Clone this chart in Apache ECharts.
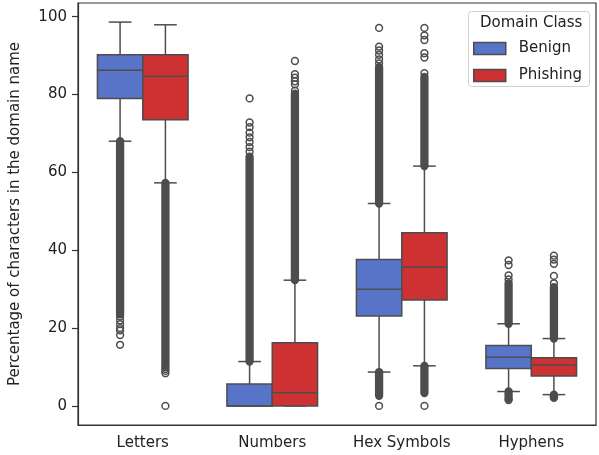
<!DOCTYPE html>
<html>
<head>
<meta charset="utf-8">
<script src="https://cdn.jsdelivr.net/npm/echarts@6/dist/echarts.min.js"></script>
<style>html,body{margin:0;padding:0;background:#fff}#c{width:599px;height:455px}</style>
</head>
<body>
<div id="c"></div>
<script>
// ---- data ----
const categories = ['Letters', 'Numbers', 'Hex Symbols', 'Hyphens'];
const hues = ['Benign', 'Phishing'];
const yTicks = [0, 20, 40, 60, 80, 100];

// [lowWhisker, Q1, median, Q3, highWhisker] per category
const benignBox = [
  [68.0, 79.0, 86.2, 90.2, 98.6],
  [0.0, 0.0, 0.0, 5.6, 11.4],
  [8.7, 23.1, 30.0, 37.6, 52.0],
  [3.7, 9.6, 12.5, 15.5, 21.1]
];
const phishingBox = [
  [57.3, 73.5, 84.7, 90.2, 97.9],
  [0.0, 0.0, 3.4, 16.2, 32.3],
  [10.3, 27.2, 35.7, 44.5, 61.6],
  [2.9, 7.7, 10.5, 12.4, 17.3]
];

// individual outlier circles: [categoryIndex, value]
const benignOutliers = [
  [0, 23.0], [0, 22.0], [0, 21.0], [0, 20.0], [0, 19.4], [0, 18.2], [0, 15.7],
  [1, 79.0], [1, 72.8], [1, 71.6], [1, 70.2], [1, 69.0], [1, 67.8], [1, 66.5], [1, 65.3],
  [2, 97.1], [2, 92.3], [2, 91.3], [2, 90.2], [2, 89.0], [2, 88.0], [2, 0.0],
  [3, 37.4], [3, 36.2], [3, 33.5], [3, 32.5], [3, 1.5]
];
const phishingOutliers = [
  [0, 10.5], [0, 10.0], [0, 9.5], [0, 9.0], [0, 8.4], [0, 0.0],
  [1, 88.6], [1, 85.2], [1, 84.3], [1, 83.4], [1, 82.6], [1, 81.0],
  [2, 97.1], [2, 95.2], [2, 94.0], [2, 90.6], [2, 89.5], [2, 85.5], [2, 0.0],
  [3, 38.6], [3, 37.6], [3, 36.5], [3, 33.4], [3, 31.5], [3, 2.5], [3, 2.1]
];
// stretches so dense that the circles merge into a solid column: [categoryIndex, from, to]
const benignDense = [
  [0, 23.5, 68.0], [1, 11.4, 64.0], [2, 52.0, 87.0], [2, 2.6, 8.7], [3, 21.1, 31.5], [3, 1.8, 3.7]
];
const phishingDense = [
  [0, 11.0, 57.3], [1, 32.3, 80.2], [2, 61.6, 84.5], [2, 3.3, 10.3], [3, 17.3, 30.5], [3, 2.3, 2.9]
];

// ---- styling ----
const FONT = 'DejaVu Sans';
const LINE = '#4d4d4d';
const COLORS = { Benign: '#5874c9', Phishing: '#ce3132' };
const OFFSET = { Benign: -0.175, Phishing: 0.175 };
const BOX_W = 0.35;
const R = 3.4;

function boxRender(hue) {
  return function (params, api) {
    const ci = api.value(0);
    const band = api.size([1, 0])[0];
    const cx = api.coord([ci, 0])[0] + OFFSET[hue] * band;
    const w = BOX_W * band;
    const y = v => api.coord([ci, v])[1];
    const lo = y(api.value(1)), q1 = y(api.value(2)), med = y(api.value(3)),
          q3 = y(api.value(4)), hi = y(api.value(5));
    const ls = { stroke: LINE, lineWidth: 1.5 };
    return {
      type: 'group',
      children: [
        { type: 'line', shape: { x1: cx, y1: q1, x2: cx, y2: lo }, style: ls },
        { type: 'line', shape: { x1: cx, y1: q3, x2: cx, y2: hi }, style: ls },
        { type: 'line', shape: { x1: cx - w / 4, y1: lo, x2: cx + w / 4, y2: lo }, style: ls },
        { type: 'line', shape: { x1: cx - w / 4, y1: hi, x2: cx + w / 4, y2: hi }, style: ls },
        { type: 'rect', shape: { x: cx - w / 2, y: q3, width: w, height: q1 - q3 },
          style: { fill: COLORS[hue], stroke: LINE, lineWidth: 1.5 } },
        { type: 'line', shape: { x1: cx - w / 2, y1: med, x2: cx + w / 2, y2: med }, style: ls }
      ]
    };
  };
}

function pointRender(hue) {
  return function (params, api) {
    const ci = api.value(0);
    const band = api.size([1, 0])[0];
    const cx = api.coord([ci, 0])[0] + OFFSET[hue] * band;
    const cy = api.coord([ci, api.value(1)])[1];
    return { type: 'circle', shape: { cx: cx, cy: cy, r: R },
             style: { fill: 'none', stroke: LINE, lineWidth: 1.5 } };
  };
}

function denseRender(hue) {
  return function (params, api) {
    const ci = api.value(0);
    const band = api.size([1, 0])[0];
    const cx = api.coord([ci, 0])[0] + OFFSET[hue] * band;
    const ya = api.coord([ci, api.value(1)])[1];
    const yb = api.coord([ci, api.value(2)])[1];
    const ro = R + 0.75;
    return { type: 'rect',
             shape: { x: cx - ro, y: yb - ro, width: 2 * ro, height: (ya - yb) + 2 * ro, r: ro },
             style: { fill: LINE } };
  };
}

const chart = echarts.init(document.getElementById('c'), null, { renderer: 'canvas' });
chart.setOption({
  animation: false,
  backgroundColor: '#fff',
  textStyle: { fontFamily: FONT },
  grid: { left: 77, right: 3, top: 3, bottom: 30, show: true, borderColor: '#333', borderWidth: 1.2 },
  xAxis: {
    type: 'category',
    data: categories,
    boundaryGap: true,
    axisLine: { onZero: false, lineStyle: { color: '#333', width: 1.2 } },
    axisTick: { alignWithLabel: true, length: 6, lineStyle: { color: '#333', width: 1.2 } },
    axisLabel: { color: '#222', fontSize: 15, fontFamily: FONT, margin: 11 },
    splitLine: { show: false }
  },
  yAxis: {
    type: 'value',
    min: -4.9,
    max: 103.5,
    name: 'Percentage of characters in the domain name',
    nameLocation: 'middle',
    nameGap: 55,
    nameTextStyle: { color: '#222', fontSize: 15, fontFamily: FONT },
    axisLine: { show: true, lineStyle: { color: '#333', width: 1.2 } },
    axisTick: { show: true, length: 6, customValues: yTicks, lineStyle: { color: '#333', width: 1.2 } },
    axisLabel: { color: '#222', fontSize: 15, fontFamily: FONT, margin: 11, customValues: yTicks },
    splitLine: { show: false }
  },
  legend: {
    data: hues,
    orient: 'vertical',
    left: 473,
    top: 41,
    padding: 0,
    z: 80,
    itemWidth: 32,
    itemHeight: 12,
    itemGap: 12,
    icon: 'rect',
    itemStyle: { borderColor: LINE, borderWidth: 1.5 },
    textStyle: { color: '#222', fontSize: 15, fontFamily: FONT, lineHeight: 12, padding: [0, 0, 0, 8] },
    selectedMode: false
  },
  graphic: {
    z: 70,
    elements: [
      { type: 'rect', left: 468, top: 11,
        shape: { width: 121, height: 75, r: 3 },
        style: { fill: '#fff', stroke: '#d0d0d0', lineWidth: 1 } },
      { type: 'text', left: 480, top: 16,
        style: { text: 'Domain Class', fill: '#222', font: '15px "DejaVu Sans"' } }
    ]
  },
  series: [
    { type: 'custom', name: 'Benign dense', renderItem: denseRender('Benign'), data: benignDense, z: 2,
      encode: { x: 0, y: [1, 2] } },
    { type: 'custom', name: 'Phishing dense', renderItem: denseRender('Phishing'), data: phishingDense, z: 2,
      encode: { x: 0, y: [1, 2] } },
    { type: 'custom', name: 'Benign pts', renderItem: pointRender('Benign'), data: benignOutliers, z: 2,
      encode: { x: 0, y: 1 } },
    { type: 'custom', name: 'Phishing pts', renderItem: pointRender('Phishing'), data: phishingOutliers, z: 2,
      encode: { x: 0, y: 1 } },
    { type: 'custom', name: 'Benign', renderItem: boxRender('Benign'), z: 3,
      itemStyle: { color: COLORS.Benign },
      data: benignBox.map((b, i) => [i].concat(b)), encode: { x: 0, y: [1, 2, 3, 4, 5] } },
    { type: 'custom', name: 'Phishing', renderItem: boxRender('Phishing'), z: 3,
      itemStyle: { color: COLORS.Phishing },
      data: phishingBox.map((b, i) => [i].concat(b)), encode: { x: 0, y: [1, 2, 3, 4, 5] } }
  ]
});
</script>
</body>
</html>
